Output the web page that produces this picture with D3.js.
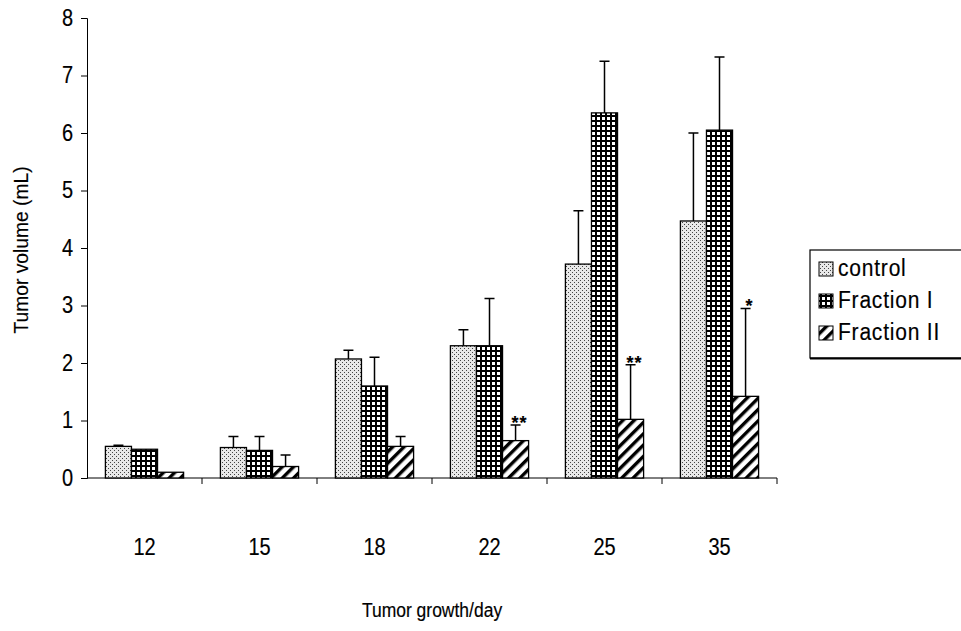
<!DOCTYPE html>
<html>
<head>
<meta charset="utf-8">
<script src="https://d3js.org/d3.v7.min.js"></script>
<style>
body { margin: 0; background: #fff; }
text { font-family: "Liberation Sans", Arial, sans-serif; fill: #000; stroke: #000; stroke-width: 0.15px; }
</style>
</head>
<body>
<svg width="961" height="631"></svg>
<script>
// values
var days = ["12", "15", "18", "22", "25", "35"];
var control = [0.55, 0.53, 2.07, 2.30, 3.72, 4.47];
var controlSd = [0.02, 0.19, 0.15, 0.28, 0.93, 1.53];
var fraction1 = [0.50, 0.48, 1.60, 2.30, 6.35, 6.05];
var fraction1Sd = [0.00, 0.24, 0.50, 0.82, 0.90, 1.27];
var fraction2 = [0.10, 0.20, 0.55, 0.65, 1.02, 1.42];
var fraction2Sd = [0.00, 0.20, 0.17, 0.27, 0.95, 1.53];
var fraction2Marks = ["", "", "", "**", "**", "*"];
var seriesNames = ["control", "Fraction I", "Fraction II"];
var yTicks = [0, 1, 2, 3, 4, 5, 6, 7, 8];

var series = [
  { name: seriesNames[0], values: control, sd: controlSd, fill: "url(#dots)" },
  { name: seriesNames[1], values: fraction1, sd: fraction1Sd, fill: "url(#grid)" },
  { name: seriesNames[2], values: fraction2, sd: fraction2Sd, fill: "url(#hatch)", marks: fraction2Marks }
];

var stretch = "scale(1,1.2)"; // scanned text is taller than it is wide

var svg = d3.select("svg");
var defs = svg.append("defs");

// stipple for control
var p1 = defs.append("pattern").attr("id", "dots").attr("patternUnits", "userSpaceOnUse")
  .attr("width", 4).attr("height", 4);
p1.append("rect").attr("width", 4).attr("height", 4).attr("fill", "#e8e8e8");
p1.append("rect").attr("x", 0).attr("y", 0).attr("width", 1).attr("height", 1).attr("fill", "#444");
p1.append("rect").attr("x", 2).attr("y", 2).attr("width", 1).attr("height", 1).attr("fill", "#444");

// dense grid for fraction I
var p2 = defs.append("pattern").attr("id", "grid").attr("patternUnits", "userSpaceOnUse")
  .attr("width", 5).attr("height", 5);
p2.append("rect").attr("width", 5).attr("height", 5).attr("fill", "#000");
p2.append("rect").attr("x", 2).attr("y", 2).attr("width", 3).attr("height", 3).attr("fill", "#fff");

// diagonal hatch for fraction II
var p3 = defs.append("pattern").attr("id", "hatch").attr("patternUnits", "userSpaceOnUse")
  .attr("width", 8).attr("height", 8).attr("patternTransform", "rotate(45)");
p3.append("rect").attr("width", 8).attr("height", 8).attr("fill", "#fff");
p3.append("rect").attr("width", 3.4).attr("height", 8).attr("fill", "#000");

var x = d3.scaleBand().domain(days).range([87, 777]).paddingInner(0.32).paddingOuter(0.16);
var xs = d3.scaleBand().domain(seriesNames).range([0, x.bandwidth()]);
var y = d3.scaleLinear().domain([0, 8]).range([478, 18]);

// axes
var yAxis = svg.append("g").attr("transform", "translate(87,0)")
  .call(d3.axisLeft(y).tickValues(yTicks).tickSize(6).tickPadding(8));
yAxis.selectAll("text").style("font-size", "20px").attr("dy", "0.3em").attr("transform", stretch);

var step = x.step();
var xAxis = svg.append("g").attr("transform", "translate(0,478)");
xAxis.append("line").attr("x1", 87).attr("x2", 777).attr("stroke", "#000");
xAxis.selectAll(".sep").data(days.slice(1)).enter().append("line")
  .attr("x1", function(d) { return x(d) - step * x.paddingInner() / 2; })
  .attr("x2", function(d) { return x(d) - step * x.paddingInner() / 2; })
  .attr("y1", 0).attr("y2", 6).attr("stroke", "#000");
xAxis.append("line").attr("x1", 777).attr("x2", 777).attr("y1", 0).attr("y2", 6).attr("stroke", "#000");
xAxis.selectAll(".lab").data(days).enter().append("text")
  .attr("transform", function(d) { return "translate(" + (x(d) + x.bandwidth() / 2) + ",77) " + stretch; })
  .attr("text-anchor", "middle").style("font-size", "20px")
  .text(function(d) { return d; });
svg.selectAll(".domain").attr("stroke", "#000");

// bars
series.forEach(function(s) {
  var g = svg.append("g");
  g.selectAll("rect").data(s.values).enter().append("rect")
    .attr("x", function(d, i) { return x(days[i]) + xs(s.name); })
    .attr("y", function(d) { return y(d); })
    .attr("width", xs.bandwidth())
    .attr("height", function(d) { return y(0) - y(d); })
    .attr("fill", s.fill).attr("stroke", "#000").attr("stroke-width", 1.3);
  g.selectAll(".err").data(s.values).enter().append("path")
    .attr("d", function(d, i) {
      var cx = x(days[i]) + xs(s.name) + xs.bandwidth() / 2;
      var top = y(d + s.sd[i]);
      if (s.sd[i] <= 0) return "";
      return "M" + cx + "," + y(d) + "V" + top + "M" + (cx - 5) + "," + top + "H" + (cx + 5);
    })
    .attr("stroke", "#000").attr("stroke-width", 1.5).attr("fill", "none");
  if (s.marks) {
    g.selectAll(".mark").data(s.values).enter().append("text")
      .attr("x", function(d, i) { return x(days[i]) + xs(s.name) + xs.bandwidth() / 2 + 4; })
      .attr("y", function(d, i) { return y(d + s.sd[i]) + 4; })
      .attr("text-anchor", "middle").style("font-size", "18px").style("font-weight", "bold")
      .style("letter-spacing", "1px")
      .text(function(d, i) { return s.marks[i]; });
  }
});

// axis titles
svg.append("text").attr("transform", "translate(28,250) scale(1.2,1.1) rotate(-90)")
  .attr("text-anchor", "middle").style("font-size", "17.5px").text("Tumor volume (mL)");
svg.append("text").attr("transform", "translate(432,617) " + stretch)
  .attr("text-anchor", "middle").style("font-size", "17.5px").text("Tumor growth/day");

// legend
var lg = svg.append("g").attr("transform", "translate(810,250)");
lg.append("rect").attr("x", 0).attr("y", 0).attr("width", 160).attr("height", 108)
  .attr("fill", "#fff").attr("stroke", "#000").attr("stroke-width", 1.2);
lg.append("line").attr("x1", 0).attr("x2", 161).attr("y1", 108.5).attr("y2", 108.5)
  .attr("stroke", "#000").attr("stroke-width", 2);
series.forEach(function(s, i) {
  lg.append("rect").attr("x", 9).attr("y", 12 + i * 32).attr("width", 14).attr("height", 14)
    .attr("fill", s.fill).attr("stroke", "#000").attr("stroke-width", 1);
  lg.append("text").attr("transform", "translate(28," + (26 + i * 32) + ") scale(1,1.15)")
    .style("font-size", "21px").style("letter-spacing", "0.8px").text(s.name);
});
</script>
</body>
</html>
